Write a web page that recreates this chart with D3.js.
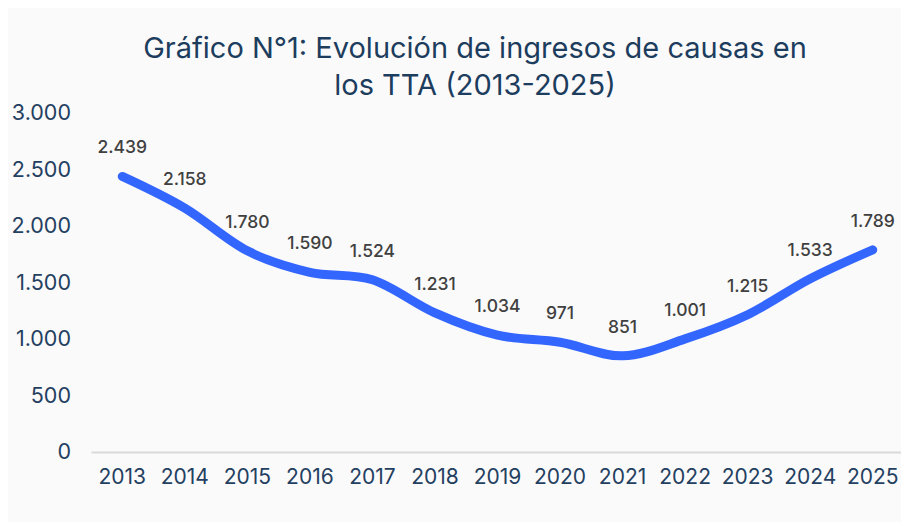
<!DOCTYPE html>
<html><head><meta charset="utf-8">
<script src="https://cdn.jsdelivr.net/npm/d3@7"></script>
<style>
html,body{margin:0;padding:0;background:#ffffff;}
svg{display:block;}
</style></head>
<body>
<svg id="chart" width="901" height="522"></svg>
<script>
const titleLines = ["Gráfico N°1: Evolución de ingresos de causas en", "los TTA (2013-2025)"];
const years = ["2013","2014","2015","2016","2017","2018","2019","2020","2021","2022","2023","2024","2025"];
const ingresos = [2439,2158,1780,1590,1524,1231,1034,971,851,1001,1215,1533,1789];
const yTicks = [0,500,1000,1500,2000,2500,3000];

const svg = d3.select("#chart");
const W = 901, H = 522;
svg.append("rect").attr("x",8).attr("y",8).attr("width",W-8).attr("height",H-8).attr("fill","#fafafa");

const fmt = v => d3.format(",")(v).replace(/,/g,".");

const x = d3.scaleBand().domain(years).range([91,904]).padding(0);
const y = d3.scaleLinear().domain([0,3000]).range([452,113]);

// title
svg.append("text").attr("x",475).attr("y",58).attr("text-anchor","middle")
  .attr("font-family","Inter").attr("font-size",29).attr("fill","#1d3d5e")
  .selectAll("tspan").data(titleLines).join("tspan")
  .attr("x",475).attr("dy",(d,i)=>i===0?0:37).text(d=>d);

// y axis
const yAxis = d3.axisLeft(y).tickValues(yTicks).tickFormat(fmt).tickSize(0).tickPadding(0);
const gy = svg.append("g").attr("transform","translate(71,0)").call(yAxis);
gy.select(".domain").remove();
gy.selectAll("text").attr("font-family","Inter").attr("font-size",21.5).attr("fill","#244061");

// x axis
const xAxis = d3.axisBottom(x).tickSize(0).tickPadding(17);
const gx = svg.append("g").attr("transform",`translate(0,${y(0)})`).call(xAxis);
gx.select(".domain").attr("stroke","#d9d9d9").attr("stroke-width",2);
gx.selectAll("text").attr("font-family","Inter").attr("font-size",21).attr("fill","#244061");

const cx = d => x(d) + x.bandwidth()/2;

// line
const line = d3.line().x((d,i)=>cx(years[i])).y(d=>y(d)).curve(d3.curveCatmullRom.alpha(0));
svg.append("path").datum(ingresos).attr("d",line).attr("fill","none")
  .attr("stroke","#3366ff").attr("stroke-width",9).attr("stroke-linecap","round").attr("stroke-linejoin","round");

// labels
svg.append("g").selectAll("text").data(ingresos).join("text")
  .attr("x",(d,i)=>cx(years[i])).attr("y",d=>y(d)-23).attr("text-anchor","middle")
  .attr("font-family","Inter").attr("font-size",17.5).attr("font-weight",500).attr("fill","#404040")
  .text(d=>fmt(d));
</script>
</body></html>
